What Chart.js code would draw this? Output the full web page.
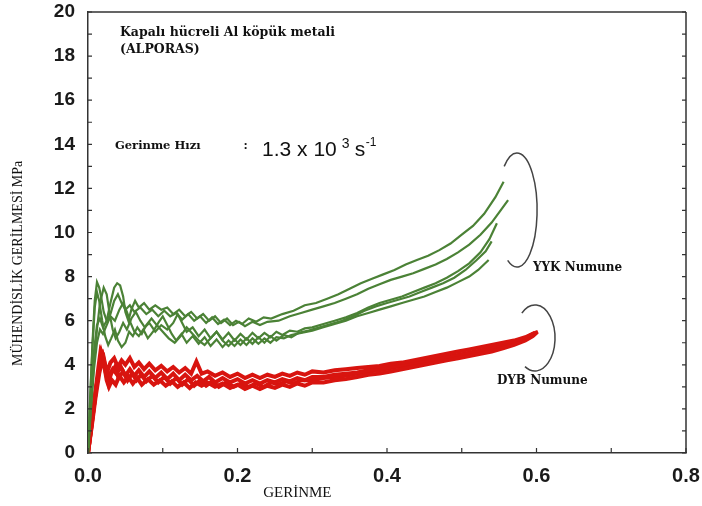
<!DOCTYPE html>
<html lang="tr">
<head>
<meta charset="UTF-8">
<title>ALPORAS gerilme-gerinme</title>
<script src="https://cdn.jsdelivr.net/npm/chart.js"></script>
<style>
  html, body { margin: 0; padding: 0; background: #fff; }
  #wrap { width: 702px; height: 506px; }
</style>
</head>
<body>
<div id="wrap"><canvas id="myChart" width="702" height="506"></canvas></div>
<script>
// eksen değerleri
const xTicks = [0.0, 0.2, 0.4, 0.6, 0.8];
const yTicks = [0, 2, 4, 6, 8, 10, 12, 14, 16, 18, 20];

// YYK numune eğrileri [gerinme, gerilme MPa]
const yyk1 = [[0,0],[.003,2.6],[.006,5.0],[.009,6.9],[.012,7.75],[.015,7.5],[.018,7.0],[.021,6.4],[.025,6.0],[.03,6.3],[.035,6.9],[.04,7.2],[.045,6.8],[.05,6.5],[.056,6.7],[.062,6.4],[.07,6.6],[.078,6.3],[.086,6.5],[.094,6.2],[.102,6.45],[.11,6.2],[.118,6.35],[.126,6.05],[.134,6.3],[.142,6.0],[.15,6.2],[.158,5.9],[.166,6.15],[.174,5.85],[.182,6.05],[.19,5.8],[.198,6.0],[.206,5.85],[.215,6.1],[.225,5.95],[.235,6.15],[.245,6.1],[.26,6.3],[.275,6.45],[.29,6.7],[.305,6.8],[.32,7.0],[.335,7.2],[.35,7.45],[.365,7.7],[.38,7.9],[.395,8.1],[.41,8.3],[.425,8.55],[.44,8.75],[.455,8.95],[.47,9.2],[.485,9.5],[.5,9.9],[.515,10.3],[.53,10.85],[.545,11.6],[.556,12.3]];
const yyk2 = [[0,0],[.004,2.4],[.008,4.6],[.012,5.8],[.016,6.1],[.02,5.7],[.025,6.0],[.03,6.8],[.035,7.5],[.039,7.7],[.043,7.6],[.047,7.1],[.05,6.4],[.054,6.0],[.058,6.5],[.063,6.9],[.068,6.6],[.075,6.8],[.082,6.5],[.09,6.7],[.098,6.5],[.106,6.6],[.114,6.3],[.122,6.5],[.13,6.2],[.138,6.4],[.146,6.1],[.154,6.3],[.162,6.0],[.17,6.2],[.178,5.9],[.186,6.1],[.194,5.8],[.202,5.95],[.21,5.75],[.22,5.95],[.23,5.8],[.24,5.95],[.255,6.0],[.27,6.2],[.285,6.35],[.3,6.5],[.315,6.65],[.33,6.8],[.345,7.0],[.36,7.2],[.375,7.45],[.39,7.65],[.405,7.85],[.42,8.0],[.435,8.15],[.45,8.35],[.465,8.55],[.48,8.8],[.495,9.1],[.51,9.45],[.525,9.9],[.54,10.45],[.552,11.0],[.562,11.47]];
const yyk3 = [[0,0],[.004,2.2],[.008,4.1],[.012,5.6],[.016,6.8],[.021,7.5],[.025,7.2],[.029,6.3],[.033,5.6],[.037,5.2],[.042,5.5],[.047,5.9],[.052,5.6],[.058,6.1],[.064,6.4],[.07,6.0],[.076,5.7],[.082,5.9],[.09,5.5],[.098,5.8],[.106,5.6],[.114,5.9],[.12,6.3],[.126,5.9],[.132,5.5],[.14,5.7],[.148,5.3],[.156,5.6],[.164,5.2],[.172,5.5],[.18,5.15],[.188,5.45],[.196,5.1],[.204,5.4],[.212,5.15],[.22,5.45],[.228,5.2],[.236,5.45],[.244,5.25],[.252,5.5],[.26,5.35],[.27,5.55],[.28,5.5],[.29,5.65],[.3,5.7],[.315,5.85],[.33,6.0],[.345,6.15],[.36,6.35],[.375,6.6],[.39,6.8],[.405,6.95],[.42,7.1],[.435,7.3],[.45,7.5],[.465,7.7],[.48,7.95],[.495,8.25],[.51,8.6],[.525,9.1],[.537,9.7],[.547,10.42]];
const yyk4 = [[0,0],[.003,2.5],[.006,4.8],[.009,6.6],[.012,7.3],[.015,6.9],[.019,6.0],[.023,5.3],[.027,4.9],[.031,5.2],[.036,5.6],[.04,5.1],[.045,4.8],[.05,5.0],[.055,5.5],[.06,5.3],[.066,5.7],[.072,5.4],[.078,5.8],[.085,6.1],[.092,5.8],[.1,5.5],[.108,5.2],[.116,5.0],[.124,5.3],[.132,5.7],[.14,5.4],[.148,5.1],[.156,4.9],[.164,5.2],[.172,5.5],[.18,5.1],[.188,4.85],[.196,5.15],[.204,4.9],[.212,5.2],[.22,4.95],[.228,5.25],[.236,5.0],[.244,5.3],[.252,5.1],[.262,5.35],[.272,5.25],[.282,5.45],[.295,5.55],[.31,5.7],[.325,5.85],[.34,6.0],[.355,6.2],[.37,6.45],[.385,6.65],[.4,6.8],[.415,6.95],[.43,7.1],[.445,7.3],[.46,7.5],[.475,7.7],[.49,7.95],[.505,8.3],[.52,8.75],[.532,9.15],[.54,9.6]];
const yyk5 = [[0,0],[.004,2.0],[.008,3.8],[.012,5.0],[.016,5.6],[.02,5.4],[.025,5.8],[.03,6.2],[.036,6.0],[.042,6.5],[.047,6.8],[.052,6.4],[.057,5.9],[.062,5.5],[.068,5.3],[.074,5.6],[.08,5.2],[.087,5.5],[.094,5.9],[.1,6.2],[.106,5.8],[.112,5.4],[.118,5.1],[.125,5.4],[.132,5.0],[.14,5.3],[.148,4.95],[.156,5.25],[.164,4.85],[.172,5.15],[.18,4.8],[.188,5.1],[.196,4.85],[.204,5.15],[.212,4.9],[.22,5.2],[.228,4.95],[.236,5.2],[.244,5.0],[.252,5.25],[.262,5.2],[.272,5.35],[.285,5.45],[.3,5.55],[.315,5.7],[.33,5.85],[.345,6.0],[.36,6.2],[.375,6.35],[.39,6.5],[.405,6.65],[.42,6.8],[.435,6.95],[.45,7.1],[.465,7.3],[.48,7.5],[.495,7.75],[.51,8.0],[.522,8.3],[.536,8.75]];

// DYB numune eğrileri
const dyb1 = [[0,0],[.005,1.4],[.01,2.8],[.014,3.9],[.017,4.67],[.02,4.5],[.023,4.0],[.026,3.7],[.03,4.1],[.035,4.3],[.04,3.9],[.045,4.2],[.05,4.0],[.056,4.3],[.062,3.9],[.068,4.1],[.075,3.8],[.082,4.05],[.09,3.75],[.098,3.95],[.106,3.7],[.114,3.9],[.122,3.65],[.13,3.85],[.138,3.6],[.145,4.15],[.152,3.6],[.16,3.7],[.17,3.5],[.18,3.65],[.19,3.45],[.2,3.6],[.21,3.4],[.22,3.55],[.23,3.4],[.24,3.55],[.25,3.45],[.26,3.6],[.27,3.5],[.28,3.65],[.29,3.55],[.3,3.7],[.315,3.65],[.33,3.75],[.345,3.8],[.36,3.85],[.375,3.9],[.39,3.95],[.405,4.05],[.42,4.1],[.435,4.2],[.45,4.3],[.465,4.4],[.48,4.5],[.495,4.6],[.51,4.7],[.525,4.8],[.54,4.9],[.555,5.0],[.57,5.1],[.585,5.25],[.595,5.4],[.602,5.5]];
const dyb2 = [[0,0],[.005,1.2],[.01,2.5],[.015,3.6],[.019,4.2],[.022,3.9],[.025,3.3],[.028,3.0],[.032,3.3],[.037,3.1],[.042,3.5],[.048,3.2],[.054,3.45],[.06,3.15],[.066,3.4],[.072,3.1],[.08,3.35],[.088,3.1],[.096,3.3],[.104,3.05],[.112,3.25],[.12,3.0],[.128,3.2],[.136,2.95],[.144,3.2],[.152,3.05],[.16,3.2],[.17,3.0],[.18,3.15],[.19,2.95],[.2,3.1],[.21,2.9],[.22,3.05],[.23,2.9],[.24,3.05],[.25,2.95],[.26,3.1],[.27,3.0],[.28,3.15],[.29,3.05],[.3,3.2],[.315,3.2],[.33,3.3],[.345,3.35],[.36,3.45],[.375,3.55],[.39,3.6],[.405,3.7],[.42,3.8],[.435,3.9],[.45,4.0],[.465,4.1],[.48,4.2],[.495,4.3],[.51,4.4],[.525,4.5],[.54,4.6],[.555,4.75],[.57,4.9],[.585,5.1],[.595,5.3],[.6,5.45]];
const dyb3 = [[0,0],[.006,1.6],[.012,3.2],[.016,4.0],[.02,4.4],[.024,3.8],[.028,3.5],[.033,3.8],[.038,3.6],[.044,3.9],[.05,3.5],[.056,3.8],[.062,3.5],[.068,3.75],[.075,3.45],[.082,3.7],[.09,3.4],[.098,3.65],[.106,3.35],[.114,3.6],[.122,3.3],[.13,3.55],[.138,3.3],[.146,3.5],[.154,3.25],[.162,3.45],[.17,3.2],[.18,3.4],[.19,3.2],[.2,3.35],[.21,3.15],[.22,3.3],[.23,3.15],[.24,3.3],[.25,3.2],[.26,3.35],[.27,3.25],[.28,3.4],[.29,3.3],[.3,3.45],[.315,3.45],[.33,3.55],[.345,3.6],[.36,3.65],[.375,3.75],[.39,3.85],[.405,3.9],[.42,4.0],[.435,4.1],[.45,4.15],[.465,4.25],[.48,4.35],[.495,4.45],[.51,4.55],[.525,4.65],[.54,4.75],[.555,4.9],[.57,5.0],[.585,5.15],[.597,5.4]];
const dyb4 = [[0,0],[.005,1.3],[.01,2.7],[.015,3.8],[.018,4.5],[.021,4.1],[.024,3.6],[.027,3.2],[.031,3.6],[.036,3.9],[.041,3.4],[.047,3.7],[.053,3.3],[.059,3.6],[.065,3.3],[.071,3.55],[.078,3.25],[.086,3.5],[.094,3.2],[.102,3.45],[.11,3.15],[.118,3.4],[.126,3.1],[.134,3.35],[.142,3.05],[.15,3.3],[.158,3.05],[.166,3.25],[.175,3.0],[.185,3.2],[.195,3.0],[.205,3.15],[.215,3.0],[.225,3.15],[.235,3.0],[.245,3.2],[.255,3.1],[.265,3.25],[.275,3.15],[.285,3.3],[.3,3.3],[.315,3.4],[.33,3.45],[.345,3.5],[.36,3.6],[.375,3.7],[.39,3.75],[.405,3.85],[.42,3.95],[.435,4.0],[.45,4.1],[.465,4.2],[.48,4.3],[.495,4.4],[.51,4.5],[.525,4.6],[.54,4.7],[.555,4.85],[.57,5.0],[.585,5.2],[.598,5.45]];

// parantez işaretleri: merkez (gerinme, gerilme), yarıçaplar, açı aralığı
const bracketYYK = { cx: 0.574, cy: 11.02, rx: 0.0268, ry: 2.585, a0: -130, a1: 118 };
const bracketDYB = { cx: 0.598, cy: 5.215, rx: 0.0268, ry: 1.497, a0: -131, a1: 120 };

const GREEN = '#4b8236';
const RED = '#d8140f';

function toPts(arr) {
    return arr.map(p => ({ x: p[0], y: p[1] }));
}

function lineSet(arr, color, width) {
    return {
        data: toPts(arr),
        borderColor: color,
        backgroundColor: color,
        borderWidth: width,
        pointRadius: 0,
        showLine: true,
        tension: 0,
        fill: false
    };
}

const datasets = [
    lineSet(yyk1, GREEN, 2.2),
    lineSet(yyk2, GREEN, 2.2),
    lineSet(yyk3, GREEN, 2.2),
    lineSet(yyk4, GREEN, 2.2),
    lineSet(yyk5, GREEN, 2.2),
    lineSet(dyb1, RED, 4),
    lineSet(dyb2, RED, 4),
    lineSet(dyb3, RED, 4),
    lineSet(dyb4, RED, 4)
];

const SERIF = '"DejaVu Serif", "Liberation Serif", serif';

// çerçeve, içe dönük çentikler, yazılar ve parantezler
const decorPlugin = {
    id: 'decor',
    afterDraw(chart) {
        const ctx = chart.ctx;
        const xs = chart.scales.x, ys = chart.scales.y;
        const a = chart.chartArea;
        ctx.save();
        ctx.strokeStyle = '#333';
        ctx.lineWidth = 1.5;
        ctx.beginPath();
        ctx.moveTo(a.left, a.top); ctx.lineTo(a.right, a.top);
        ctx.moveTo(a.right, a.top); ctx.lineTo(a.right, a.bottom);
        ctx.stroke();

        ctx.lineWidth = 1.2;
        ctx.beginPath();
        for (let v = 0; v <= 20; v++) {
            const py = ys.getPixelForValue(v);
            ctx.moveTo(a.left, py); ctx.lineTo(a.left + 4, py);
            ctx.moveTo(a.right, py); ctx.lineTo(a.right - 4, py);
        }
        for (let i = 0; i <= 8; i++) {
            const px = xs.getPixelForValue(i / 10);
            ctx.moveTo(px, a.bottom); ctx.lineTo(px, a.bottom - 5);
        }
        ctx.stroke();

        // parantezler
        ctx.strokeStyle = '#444';
        ctx.lineWidth = 1.5;
        [bracketYYK, bracketDYB].forEach(b => {
            const cx = xs.getPixelForValue(b.cx), cy = ys.getPixelForValue(b.cy);
            const rx = xs.getPixelForValue(b.cx + b.rx) - cx;
            const ry = cy - ys.getPixelForValue(b.cy + b.ry);
            ctx.beginPath();
            ctx.ellipse(cx, cy, rx, ry, 0, b.a0 * Math.PI / 180, b.a1 * Math.PI / 180);
            ctx.stroke();
        });

        // yazılar
        const at = (x, y) => [xs.getPixelForValue(x), ys.getPixelForValue(y)];
        ctx.fillStyle = '#111';
        ctx.textBaseline = 'middle';
        ctx.textAlign = 'left';
        ctx.font = 'bold 12.5px ' + SERIF;
        let p = at(0.0428, 19.05);
        ctx.fillText('Kapalı hücreli Al köpük metali', p[0], p[1]);
        p = at(0.0428, 18.28);
        ctx.fillText('(ALPORAS)', p[0], p[1]);

        ctx.font = 'bold 11.5px ' + SERIF;
        p = at(0.0361, 13.92);
        ctx.fillText('Gerinme Hızı', p[0], p[1]);
        p = at(0.208, 13.9);
        ctx.fillText(':', p[0], p[1]);

        ctx.font = '21px "Liberation Sans", Arial, sans-serif';
        p = at(0.2328, 13.73);
        ctx.fillText('1.3 x 10', p[0], p[1]);
        let w = ctx.measureText('1.3 x 10').width;
        ctx.font = '14px "Liberation Sans", Arial, sans-serif';
        ctx.fillText('3', p[0] + w + 5, p[1] - 6);
        ctx.font = '21px "Liberation Sans", Arial, sans-serif';
        ctx.fillText('s', p[0] + w + 18, p[1]);
        ctx.font = '12px "Liberation Sans", Arial, sans-serif';
        ctx.fillText('-1', p[0] + w + 29, p[1] - 8);

        ctx.font = 'bold 12px ' + SERIF;
        p = at(0.5953, 8.39);
        ctx.fillText('YYK Numune', p[0], p[1]);
        p = at(0.547, 3.26);
        ctx.fillText('DYB Numune', p[0], p[1]);

        // eksen başlıkları
        ctx.font = '15px "Liberation Serif", serif';
        ctx.textAlign = 'center';
        p = at(0.28, 0);
        ctx.fillText('GERİNME', p[0], 493);
        ctx.font = '14px "Liberation Serif", serif';
        ctx.translate(18, ys.getPixelForValue(8.6));
        ctx.rotate(-Math.PI / 2);
        ctx.fillText('MÜHENDİSLİK GERİLMESİ MPa', 0, 0);
        ctx.restore();
    }
};

new Chart(document.getElementById('myChart'), {
    type: 'scatter',
    data: { datasets: datasets },
    options: {
        responsive: false,
        animation: false,
        layout: { padding: { top: 12, right: 16, bottom: 0, left: 0 } },
        plugins: {
            legend: { display: false },
            tooltip: { enabled: false }
        },
        scales: {
            x: {
                type: 'linear',
                min: 0, max: 0.8,
                afterBuildTicks: (s) => { s.ticks = xTicks.map(v => ({ value: v })); },
                afterFit: (s) => { s.height = 53; s.paddingLeft = 0; s.paddingRight = 0; },
                grid: { display: false, drawTicks: false },
                border: { display: true, color: '#333', width: 1.5 },
                ticks: {
                    padding: 11,
                    color: '#1a1a1a',
                    font: { family: '"Liberation Sans", Arial, sans-serif', size: 20, weight: 'bold' },
                    callback: (v) => Number(v).toFixed(1)
                }
            },
            y: {
                type: 'linear',
                min: 0, max: 20,
                afterBuildTicks: (s) => { s.ticks = yTicks.map(v => ({ value: v })); },
                afterFit: (s) => { s.width = 88; s.paddingTop = 0; s.paddingBottom = 0; },
                grid: { display: false, drawTicks: false },
                border: { display: true, color: '#333', width: 1.5 },
                ticks: {
                    padding: 13,
                    color: '#1a1a1a',
                    font: { family: '"Liberation Sans", Arial, sans-serif', size: 19, weight: 'bold' }
                }
            }
        }
    },
    plugins: [decorPlugin]
});
</script>
</body>
</html>
